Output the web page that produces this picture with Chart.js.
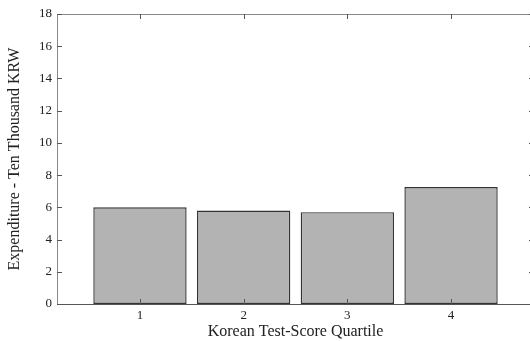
<!DOCTYPE html>
<html><head><meta charset="utf-8">
<script src="https://cdn.jsdelivr.net/npm/chart.js@4"></script>
<style>html,body{margin:0;padding:0;background:#fff;overflow:hidden;width:530px;height:341px}canvas{display:block}</style>
</head><body>
<canvas id="c" width="534" height="341"></canvas>
<script>
const quartiles = [1, 2, 3, 4];
const expenditure = [6.0, 5.8, 5.7, 7.26];
const yTickValues = [0, 2, 4, 6, 8, 10, 12, 14, 16, 18];
const xTickValues = [1, 2, 3, 4];

const FONT = "'Liberation Serif', 'DejaVu Serif', serif";

const frameTicks = {
  id: 'frameTicks',
  afterDraw(chart) {
    const {ctx, chartArea: a, scales: {x, y}} = chart;
    ctx.save();
    ctx.lineWidth = 1;
    ctx.strokeStyle = '#8a8a8a';
    ctx.beginPath();
    ctx.moveTo(a.left + 0.5, a.bottom);
    ctx.lineTo(a.left + 0.5, a.top + 0.5);
    ctx.lineTo(a.right, a.top + 0.5);
    ctx.lineTo(a.right - 0.5, a.bottom);
    ctx.stroke();
    ctx.strokeStyle = '#555';
    ctx.beginPath();
    ctx.moveTo(a.left, a.bottom + 0.5);
    ctx.lineTo(a.right, a.bottom + 0.5);
    ctx.stroke();
    ctx.strokeStyle = '#555';
    const L = 5;
    ctx.beginPath();
    yTickValues.forEach(v => {
      const py = Math.round(y.getPixelForValue(v)) + 0.5;
      ctx.moveTo(a.left, py); ctx.lineTo(a.left + L, py);
      ctx.moveTo(a.right, py); ctx.lineTo(a.right - L, py);
    });
    xTickValues.forEach(v => {
      const px = Math.round(x.getPixelForValue(v)) + 0.5;
      ctx.moveTo(px, a.bottom); ctx.lineTo(px, a.bottom - L);
      ctx.moveTo(px, a.top); ctx.lineTo(px, a.top + L);
    });
    ctx.stroke();
    ctx.restore();
  }
};

new Chart(document.getElementById('c'), {
  type: 'bar',
  data: {
    datasets: [{
      data: quartiles.map((q, i) => ({x: q, y: expenditure[i]})),
      backgroundColor: '#b3b3b3',
      borderColor: '#333333',
      borderWidth: 1.4,
      borderSkipped: false,
      barPercentage: 0.9,
      categoryPercentage: 1.0
    }]
  },
  options: {
    responsive: false,
    animation: false,
    layout: {padding: {top: 14, right: 0, left: 0, bottom: 0}},
    plugins: {legend: {display: false}, tooltip: {enabled: false}},
    scales: {
      x: {
        type: 'linear',
        min: 0.2, max: 4.8,
        offset: false,
        afterFit(s) { s.height = 37; },
        afterBuildTicks(s) { s.ticks = xTickValues.map(v => ({value: v})); },
        grid: {display: false, drawTicks: false},
        border: {display: false},
        ticks: {color: '#222', font: {family: FONT, size: 13}, padding: 4, maxRotation: 0},
        title: {display: true, text: 'Korean Test-Score Quartile', color: '#222',
                font: {family: FONT, size: 16}, padding: {top: 0, bottom: 0}}
      },
      y: {
        min: 0, max: 18,
        afterFit(s) { s.width = 57; },
        afterBuildTicks(s) { s.ticks = yTickValues.map(v => ({value: v})); },
        grid: {display: false, drawTicks: false},
        border: {display: false},
        ticks: {color: '#222', font: {family: FONT, size: 13}, padding: 5},
        title: {display: true, text: 'Expenditure - Ten Thousand KRW', color: '#222',
                font: {family: FONT, size: 16}, padding: {top: 5, bottom: 0}}
      }
    }
  },
  plugins: [frameTicks]
});
</script>
</body></html>
